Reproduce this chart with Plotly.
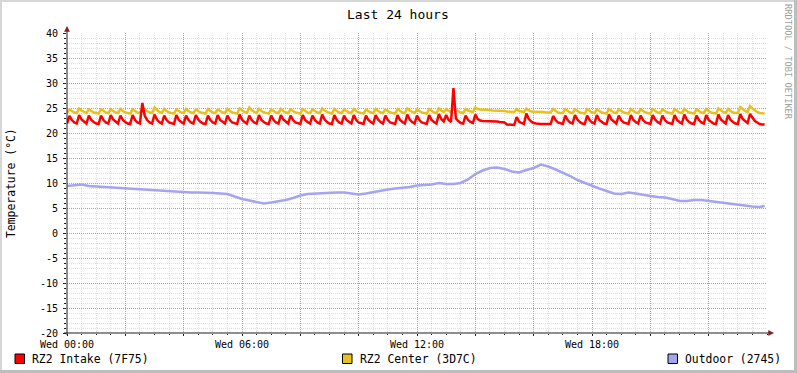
import plotly.graph_objects as go

# ---------------- data ----------------
STEP_MIN = 5  # minutes between samples of the room sensors

intake = [
    21.9, 23.4, 22.6, 22.1, 21.9, 23.6, 22.7, 22.2, 21.9, 23.5, 22.6, 22.2,
    21.9, 21.8, 23.5, 22.6, 22.1, 21.9, 23.6, 22.7, 22.2, 21.9, 23.5, 22.6,
    22.2, 21.9, 21.8, 23.6, 22.6, 22.1, 21.9, 26.0, 23.4, 22.6, 22.1, 21.9,
    23.7, 22.7, 22.2, 21.9, 23.5, 22.6, 22.1, 21.9, 21.8, 23.6, 22.6, 22.2,
    21.9, 23.5, 22.6, 22.1, 21.9, 23.6, 22.7, 22.2, 21.9, 21.8, 23.5, 22.6,
    22.1, 21.9, 23.6, 22.6, 22.2, 21.9, 23.5, 22.6, 22.1, 21.9, 21.8, 23.7,
    22.7, 22.2, 21.9, 23.5, 22.6, 22.1, 21.9, 23.6, 22.6, 22.2, 21.9, 21.8,
    23.5, 22.6, 22.1, 21.9, 23.6, 22.7, 22.2, 21.9, 23.5, 22.6, 22.1, 21.9,
    21.8, 23.6, 22.6, 22.2, 21.9, 23.5, 22.6, 22.1, 21.9, 23.7, 22.7, 22.2,
    21.9, 21.8, 23.6, 22.6, 22.1, 21.9, 23.5, 22.6, 22.2, 21.9, 23.6, 22.6,
    22.1, 21.9, 21.8, 23.5, 22.6, 22.2, 21.9, 23.6, 22.7, 22.2, 21.9, 23.5,
    22.6, 22.1, 21.9, 21.8, 23.6, 22.6, 22.2, 21.9, 23.7, 22.7, 22.2, 21.9,
    23.5, 22.6, 22.1, 21.9, 21.8, 23.6, 22.6, 22.2, 21.9, 23.8, 22.8, 22.3,
    23.6, 22.6, 22.2, 29.0, 22.9, 22.4, 22.0, 21.9, 23.5, 22.6, 22.2, 22.0,
    23.7, 22.8, 22.5, 22.4, 22.4, 22.4, 22.3, 22.3, 22.3, 22.3, 22.2, 22.2,
    22.1, 21.7, 21.7, 21.6, 21.6, 23.2, 22.3, 22.0, 21.8, 23.9, 22.8, 22.3,
    22.0, 21.9, 21.8, 21.8, 21.8, 21.8, 21.8, 21.8, 23.4, 22.6, 22.1, 21.9,
    21.8, 23.5, 22.6, 22.1, 21.9, 23.6, 22.7, 22.2, 21.9, 21.8, 23.5, 22.6,
    22.1, 21.9, 23.6, 22.6, 22.2, 21.9, 21.8, 23.7, 22.7, 22.2, 21.9, 23.5,
    22.6, 22.1, 21.9, 21.8, 23.6, 22.6, 22.2, 21.9, 23.5, 22.6, 22.1, 21.9,
    21.8, 23.6, 22.7, 22.2, 21.9, 23.5, 22.6, 22.1, 21.9, 21.8, 23.6, 22.6,
    22.2, 21.9, 23.7, 22.7, 22.2, 21.9, 21.8, 23.5, 22.6, 22.1, 21.9, 23.6,
    22.6, 22.2, 21.9, 21.8, 23.7, 22.7, 22.2, 21.9, 23.6, 22.6, 22.2, 21.9,
    21.8, 23.8, 22.8, 22.3, 22.0, 23.8, 23.0, 22.4, 22.1, 21.8, 21.7, 21.7,
]

center = [
    24.0, 24.7, 24.4, 24.1, 24.0, 24.9, 24.5, 24.2, 24.0, 24.7, 24.4, 24.1,
    24.0, 23.9, 24.8, 24.4, 24.1, 24.0, 24.7, 24.4, 24.1, 24.0, 24.8, 24.4,
    24.1, 24.0, 23.9, 24.7, 24.4, 24.1, 24.0, 25.0, 24.7, 24.4, 24.1, 24.0,
    25.1, 24.6, 24.2, 24.0, 24.8, 24.4, 24.1, 24.0, 23.9, 24.7, 24.4, 24.1,
    24.0, 24.8, 24.4, 24.1, 24.0, 24.7, 24.4, 24.1, 24.0, 23.9, 24.8, 24.4,
    24.1, 24.0, 24.7, 24.4, 24.1, 24.0, 24.8, 24.4, 24.1, 24.0, 23.9, 24.9,
    24.5, 24.2, 24.0, 25.1, 24.6, 24.2, 24.0, 24.8, 24.4, 24.1, 24.0, 23.9,
    24.7, 24.4, 24.1, 24.0, 24.8, 24.4, 24.1, 24.0, 24.7, 24.4, 24.1, 24.0,
    23.9, 24.8, 24.4, 24.1, 24.0, 24.7, 24.4, 24.1, 24.0, 24.9, 24.5, 24.2,
    24.0, 23.9, 24.8, 24.4, 24.1, 24.0, 24.7, 24.4, 24.1, 24.0, 24.8, 24.4,
    24.1, 24.0, 23.9, 24.7, 24.4, 24.1, 24.0, 24.8, 24.4, 24.1, 24.0, 24.7,
    24.4, 24.1, 24.0, 23.9, 24.8, 24.4, 24.1, 24.0, 24.9, 24.5, 24.2, 24.0,
    24.7, 24.4, 24.1, 24.0, 23.9, 24.8, 24.4, 24.1, 24.0, 24.9, 24.5, 24.2,
    24.8, 24.4, 24.2, 24.9, 24.6, 24.3, 24.1, 24.0, 24.8, 24.5, 24.3, 24.2,
    25.1, 24.8, 24.7, 24.7, 24.6, 24.6, 24.6, 24.5, 24.5, 24.5, 24.4, 24.4,
    24.4, 24.3, 24.3, 24.3, 24.2, 24.8, 24.4, 24.3, 24.2, 24.9, 24.5, 24.3,
    24.3, 24.2, 24.2, 24.2, 24.2, 24.1, 24.1, 24.1, 24.8, 24.4, 24.1, 24.0,
    24.0, 24.8, 24.4, 24.1, 24.0, 24.7, 24.4, 24.1, 24.0, 23.9, 24.8, 24.4,
    24.1, 24.0, 24.7, 24.4, 24.1, 24.0, 23.9, 24.8, 24.4, 24.1, 24.0, 24.7,
    24.4, 24.1, 24.0, 23.9, 24.8, 24.4, 24.1, 24.0, 24.7, 24.4, 24.1, 24.0,
    23.9, 24.8, 24.4, 24.1, 24.0, 24.7, 24.4, 24.1, 24.0, 23.9, 24.8, 24.4,
    24.1, 24.0, 24.8, 24.4, 24.1, 24.0, 23.9, 24.7, 24.4, 24.1, 24.0, 24.8,
    24.4, 24.1, 24.0, 23.9, 24.9, 24.5, 24.2, 24.0, 24.8, 24.4, 24.1, 24.0,
    24.0, 25.2, 24.7, 24.4, 24.2, 25.4, 24.9, 24.5, 24.2, 24.0, 23.9, 23.9,
]

# outdoor sensor, one reading every 15 minutes (last one at 23:55)
outdoor_hours = [q * 0.25 for q in range(96)] + [23.92]
outdoor = [
    9.4, 9.5, 9.7, 9.4, 9.3, 9.2, 9.1, 9.0, 8.9, 8.8, 8.7, 8.6,
    8.5, 8.5, 8.4, 8.3, 8.2, 8.1, 8.1, 8.1, 8.0, 7.9, 7.8, 7.3,
    6.8, 6.5, 6.2, 5.9, 6.1, 6.3, 6.6, 7.0, 7.5, 7.8, 7.9, 8.0,
    8.1, 8.1, 8.1, 7.9, 7.7, 7.9, 8.2, 8.5, 8.7, 8.9, 9.0, 9.2,
    9.5, 9.6, 9.7, 10.0, 9.8, 9.8, 10.0, 10.7, 11.8, 12.5, 13.0, 13.1,
    12.8, 12.3, 12.1, 12.6, 13.0, 13.7, 13.3, 12.7, 12.1, 11.4, 10.6, 10.0,
    9.5, 8.9, 8.4, 7.9, 7.8, 8.1, 7.9, 7.6, 7.4, 7.2, 7.1, 6.8,
    6.4, 6.4, 6.6, 6.6, 6.4, 6.3, 6.1, 5.9, 5.6, 5.5, 5.3, 5.2,
    5.4,
]

room_hours = [i * STEP_MIN / 60 for i in range(len(intake))]

series_names = ["RZ2 Intake (7F75)", "RZ2 Center (3D7C)", "Outdoor (2745)"]
series_colors = ["#FF0000", "#E9C11C", "#A4A4F2"]

x_tick_hours = list(range(0, 24, 2))
x_tick_text = [("Wed %02d:00" % h) if h % 6 == 0 else "" for h in x_tick_hours]
y_tick_vals = list(range(-20, 41, 5))
y_tick_text = [str(v) for v in y_tick_vals]

# ---------------- layout helpers (pixels -> paper) ----------------
W, H = 797, 373
L, R, T, B = 67, 767, 33, 333


def px(x):
    return (x - L) / (R - L)


def py(y):
    return (B - y) / (B - T)


FONT = "DejaVu Sans Mono"
MGRID = "rgba(222,79,79,0.55)"
GRID = "rgba(143,143,143,0.28)"

fig = go.Figure()

fig.add_trace(go.Scatter(x=outdoor_hours, y=outdoor, mode="lines",
                         line=dict(color=series_colors[2], width=2.5),
                         name=series_names[2], hoverinfo="skip"))
fig.add_trace(go.Scatter(x=room_hours, y=center, mode="lines",
                         line=dict(color=series_colors[1], width=2.5),
                         name=series_names[1], hoverinfo="skip"))
fig.add_trace(go.Scatter(x=room_hours, y=intake, mode="lines",
                         line=dict(color=series_colors[0], width=2.5),
                         name=series_names[0], hoverinfo="skip"))

shapes = []
# axis lines
shapes.append(dict(type="line", xref="paper", yref="paper",
                   x0=px(67), x1=px(67), y0=py(335), y1=py(30),
                   line=dict(color="#1F1F1F", width=1)))
shapes.append(dict(type="line", xref="paper", yref="paper",
                   x0=px(64), x1=px(770), y0=py(333), y1=py(333),
                   line=dict(color="#1F1F1F", width=1)))
# arrows
shapes.append(dict(type="path", xref="paper", yref="paper",
                   path="M %f %f L %f %f L %f %f Z" % (px(64.5), py(31.5), px(69.5), py(31.5), px(67), py(26.5)),
                   fillcolor="#801F1F", line=dict(color="#801F1F", width=0.5)))
shapes.append(dict(type="path", xref="paper", yref="paper",
                   path="M %f %f L %f %f L %f %f Z" % (px(768.5), py(330.5), px(768.5), py(335.5), px(773.5), py(333)),
                   fillcolor="#801F1F", line=dict(color="#801F1F", width=0.5)))
# frame shading
shapes.append(dict(type="rect", xref="paper", yref="paper",
                   x0=px(0), x1=px(797), y0=py(0), y1=py(2),
                   fillcolor="#D6D6D6", line=dict(width=0), layer="above"))
shapes.append(dict(type="rect", xref="paper", yref="paper",
                   x0=px(0), x1=px(2), y0=py(0), y1=py(373),
                   fillcolor="#D6D6D6", line=dict(width=0), layer="above"))
shapes.append(dict(type="rect", xref="paper", yref="paper",
                   x0=px(794), x1=px(797), y0=py(0), y1=py(373),
                   fillcolor="#BDBDBD", line=dict(width=0), layer="above"))
shapes.append(dict(type="rect", xref="paper", yref="paper",
                   x0=px(0), x1=px(797), y0=py(370), y1=py(373),
                   fillcolor="#BDBDBD", line=dict(width=0), layer="above"))

annotations = []
# legend
legend_box_x = [15, 342.5, 668]
legend_text_x = [30, 357.5, 683]
for bx, tx, name, col in zip(legend_box_x, legend_text_x, series_names, series_colors):
    shapes.append(dict(type="rect", xref="paper", yref="paper",
                       x0=px(bx), x1=px(bx + 9.5), y0=py(354), y1=py(363.5),
                       fillcolor=col, line=dict(color="#000000", width=1)))
    annotations.append(dict(x=px(tx), y=py(358.5), xref="paper", yref="paper",
                            text=name, showarrow=False, xanchor="left", yanchor="middle",
                            font=dict(family=FONT, size=11.4, color="#000000")))

# title
annotations.append(dict(x=px(398), y=py(14), xref="paper", yref="paper",
                        text="Last 24 hours", showarrow=False,
                        xanchor="center", yanchor="middle",
                        font=dict(family=FONT, size=13, color="#000000")))
# vertical axis label
annotations.append(dict(x=px(11), y=py(183), xref="paper", yref="paper",
                        text="Temperature (°C)", showarrow=False, textangle=-90,
                        xanchor="center", yanchor="middle",
                        font=dict(family=FONT, size=11.4, color="#000000")))
# watermark
annotations.append(dict(x=px(788), y=py(62), xref="paper", yref="paper",
                        text="RRDTOOL / TOBI OETIKER", showarrow=False, textangle=90,
                        xanchor="center", yanchor="middle",
                        font=dict(family=FONT, size=8.7, color="#A0A0A0")))

fig.update_layout(
    width=W, height=H, autosize=False,
    margin=dict(l=L, r=W - R, t=T, b=H - B, pad=0, autoexpand=False),
    paper_bgcolor="#FFFFFF", plot_bgcolor="#FFFFFF",
    showlegend=False,
    shapes=shapes, annotations=annotations,
    font=dict(family=FONT, size=10, color="#000000"),
)

fig.update_xaxes(
    range=[0, 24], tickmode="array", tickvals=x_tick_hours, ticktext=x_tick_text,
    showgrid=True, gridcolor=MGRID, griddash="1px,1px", gridwidth=1,
    zeroline=False, showline=False, automargin=False,
    ticks="outside", ticklen=2, tickcolor="#1F1F1F",
    tickfont=dict(family=FONT, size=10, color="#000000"),
    minor=dict(dtick=0.5, tick0=0, showgrid=True, gridcolor=GRID, griddash="1px,1px",
               gridwidth=1, ticks="outside", ticklen=1, tickcolor="#1F1F1F"),
    fixedrange=True,
)
fig.update_yaxes(
    range=[-20, 40], tickmode="array", tickvals=y_tick_vals, ticktext=y_tick_text,
    showgrid=True, gridcolor=MGRID, griddash="1px,1px", gridwidth=1,
    zeroline=False, showline=False, automargin=False,
    ticks="outside", ticklen=3, tickcolor="#1F1F1F", ticklabelstandoff=3,
    tickfont=dict(family=FONT, size=10, color="#000000"),
    minor=dict(dtick=1, tick0=0, showgrid=True, gridcolor=GRID, griddash="1px,1px",
               gridwidth=1, ticks="outside", ticklen=2, tickcolor="#1F1F1F"),
    fixedrange=True,
)

fig.write_html(
    "out.html",
    config={"staticPlot": True},
    post_script="document.body.style.margin='0px';document.body.style.padding='0px';"
                "document.body.style.overflow='hidden';",
)
